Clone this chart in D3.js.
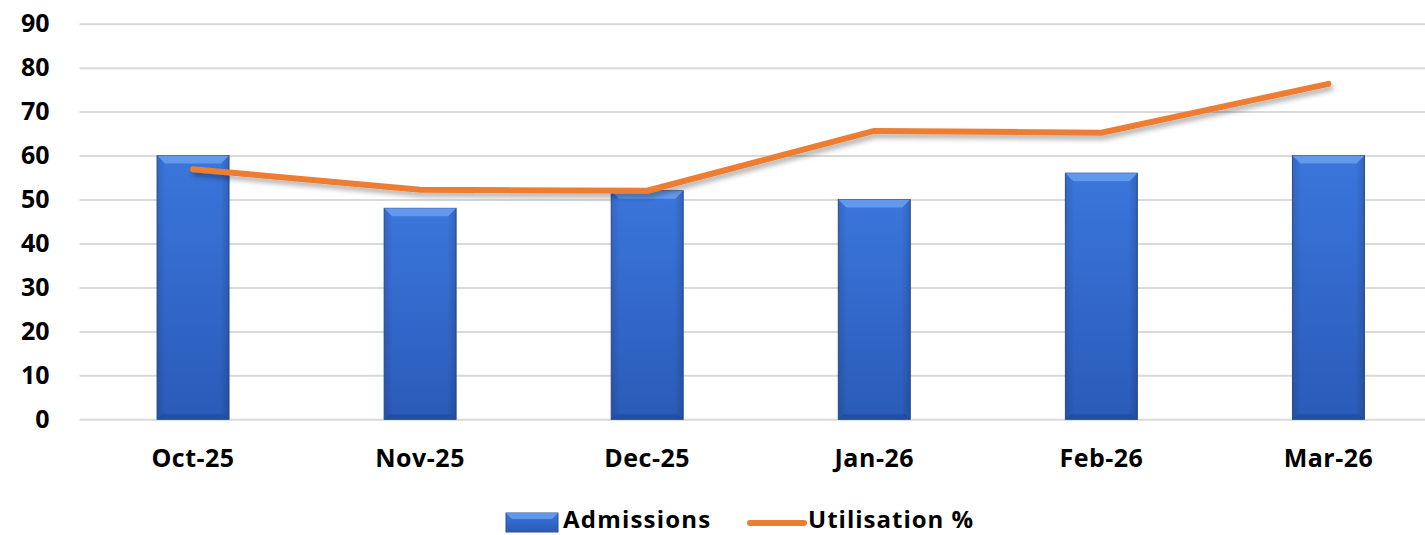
<!DOCTYPE html>
<html lang="en">
<head>
    <meta charset="UTF-8">
    <script src="https://d3js.org/d3.v7.min.js"></script>
    <title>Admissions and Utilisation</title>
    <style>
        body {
            margin: 0;
            background: #fff;
            font-family: 'Open Sans', sans-serif;
        }
        text {
            font-weight: 700;
            fill: #000;
        }
        .grid line {
            stroke: #d9d9d9;
            stroke-width: 2px;
        }
        .grid path {
            stroke: none;
        }
    </style>
</head>
<body>
    <svg width="1425" height="535"></svg>
    <script>
        // Data
        const months = ["Oct-25", "Nov-25", "Dec-25", "Jan-26", "Feb-26", "Mar-26"];
        const admissions = [60, 48, 52, 50, 56, 60];
        const utilisation = [56.9, 52.2, 52.0, 65.6, 65.2, 76.3];
        const yTicks = [0, 10, 20, 30, 40, 50, 60, 70, 80, 90];

        const data = months.map((m, i) => ({ month: m, adm: admissions[i], util: utilisation[i] }));

        const width = 1425;
        const height = 535;
        const margin = { top: 23.7, right: -17, bottom: 115.7, left: 79.5 };
        const font = "'Open Sans', sans-serif";

        const svg = d3.select("svg");
        const defs = svg.append("defs");

        // Bar gradient
        const grad = defs.append("linearGradient")
            .attr("id", "bar-gradient")
            .attr("x1", "0%").attr("y1", "0%")
            .attr("x2", "0%").attr("y2", "100%");
        grad.append("stop").attr("offset", "0%").attr("stop-color", "#3b76dc");
        grad.append("stop").attr("offset", "100%").attr("stop-color", "#2a5bb8");

        const side = defs.append("linearGradient")
            .attr("id", "side-gradient")
            .attr("x1", "0%").attr("y1", "0%")
            .attr("x2", "100%").attr("y2", "0%");
        side.append("stop").attr("offset", "0%").attr("stop-color", "#000").attr("stop-opacity", 0.12);
        side.append("stop").attr("offset", "12%").attr("stop-color", "#000").attr("stop-opacity", 0);
        side.append("stop").attr("offset", "88%").attr("stop-color", "#000").attr("stop-opacity", 0);
        side.append("stop").attr("offset", "100%").attr("stop-color", "#000").attr("stop-opacity", 0.15);

        // Shadow for line
        const shadow = defs.append("filter").attr("id", "shadow")
            .attr("x", "-10%").attr("y", "-50%").attr("width", "120%").attr("height", "200%");
        shadow.append("feDropShadow")
            .attr("dx", 2).attr("dy", 4).attr("stdDeviation", 2.5)
            .attr("flood-color", "#000").attr("flood-opacity", 0.3);

        // Scales
        const x = d3.scaleBand()
            .domain(months)
            .range([margin.left, width - margin.right])
            .paddingInner(0.683)
            .paddingOuter(0.3415);

        const y = d3.scaleLinear()
            .domain([0, 90])
            .range([height - margin.bottom, margin.top]);

        // Gridlines
        svg.append("g")
            .attr("class", "grid")
            .attr("transform", `translate(${margin.left},0)`)
            .call(d3.axisLeft(y).tickValues(yTicks).tickSize(-(width - margin.left)).tickFormat(""));

        // Y axis labels
        const yAxis = svg.append("g")
            .attr("transform", `translate(${margin.left},0)`)
            .call(d3.axisLeft(y).tickValues(yTicks).tickSize(0).tickPadding(30));
        yAxis.select(".domain").remove();
        yAxis.selectAll("text")
            .style("font-size", "25px")
            .style("font-family", font)
            .style("font-weight", 700)
            .attr("fill", "#000");

        // Bars
        const bw = x.bandwidth();
        const bars = svg.selectAll(".bar")
            .data(data)
            .enter().append("g")
            .attr("class", "bar");

        bars.append("rect")
            .attr("x", d => x(d.month))
            .attr("y", d => y(d.adm))
            .attr("width", bw)
            .attr("height", d => y(0) - y(d.adm))
            .attr("fill", "url(#bar-gradient)")
            .attr("stroke", "#2f4f8f")
            .attr("stroke-width", 1);

        bars.append("rect")
            .attr("x", d => x(d.month))
            .attr("y", d => y(d.adm))
            .attr("width", bw)
            .attr("height", d => y(0) - y(d.adm))
            .attr("fill", "url(#side-gradient)");

        // Top bevel
        const bevel = 8;
        bars.append("path")
            .attr("d", d => {
                const x0 = x(d.month), y0 = y(d.adm);
                return `M${x0},${y0}L${x0 + bw},${y0}L${x0 + bw - bevel},${y0 + bevel}L${x0 + bevel},${y0 + bevel}Z`;
            })
            .attr("fill", "#6aa0f0")
            .attr("opacity", 0.85);

        // Bottom bevel
        bars.append("path")
            .attr("d", d => {
                const x0 = x(d.month), y0 = y(0);
                return `M${x0},${y0}L${x0 + bw},${y0}L${x0 + bw - 5},${y0 - 5}L${x0 + 5},${y0 - 5}Z`;
            })
            .attr("fill", "#1f4a9c")
            .attr("opacity", 0.7);

        // X axis labels
        const xAxis = svg.append("g")
            .attr("transform", `translate(0,${y(0)})`)
            .call(d3.axisBottom(x).tickSize(0).tickPadding(30));
        xAxis.select(".domain").remove();
        xAxis.selectAll("text")
            .style("font-size", "25px")
            .style("font-family", font)
            .style("font-weight", 700)
            .style("letter-spacing", "0.5px")
            .attr("fill", "#000");

        // Utilisation line
        const line = d3.line()
            .x(d => x(d.month) + bw / 2)
            .y(d => y(d.util));

        svg.append("path")
            .datum(data)
            .attr("d", line)
            .attr("fill", "none")
            .attr("stroke", "#ed7d31")
            .attr("stroke-width", 6)
            .attr("stroke-linecap", "round")
            .attr("stroke-linejoin", "round")
            .attr("filter", "url(#shadow)");

        // Legend
        const legend = svg.append("g").attr("transform", "translate(506,522)");
        legend.append("rect")
            .attr("x", 0).attr("y", -9)
            .attr("width", 52).attr("height", 19)
            .attr("fill", "url(#bar-gradient)")
            .attr("stroke", "#2f4f8f");
        legend.append("path")
            .attr("d", "M0,-9L52,-9L46,-3L6,-3Z")
            .attr("fill", "#6aa0f0").attr("opacity", 0.85);
        legend.append("text")
            .attr("x", 57).attr("y", 5.5)
            .style("font-size", "24px")
            .style("font-family", font)
            .style("letter-spacing", "1.2px")
            .text("Admissions");

        legend.append("line")
            .attr("x1", 244).attr("x2", 298)
            .attr("y1", 1).attr("y2", 1)
            .attr("stroke", "#ed7d31")
            .attr("stroke-width", 6)
            .attr("stroke-linecap", "round");
        legend.append("text")
            .attr("x", 302).attr("y", 5.5)
            .style("font-size", "24px")
            .style("font-family", font)
            .style("letter-spacing", "1px")
            .text("Utilisation %");
    </script>
</body>
</html>
